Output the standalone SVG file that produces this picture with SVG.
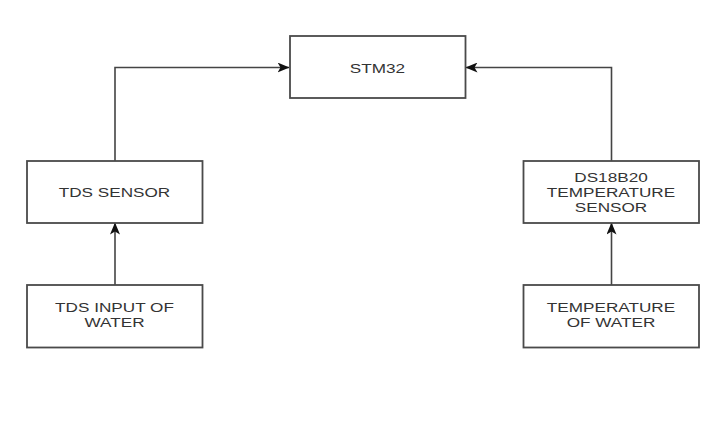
<svg xmlns="http://www.w3.org/2000/svg" width="720" height="425" viewBox="0 0 720 425">
<style>
.box{fill:#ffffff;stroke:#4a4a4a;stroke-width:1.8}
.lbl{font-family:"Liberation Sans",Arial,sans-serif;font-size:13px;fill:#333333;text-anchor:middle}
.edge{fill:none;stroke:#444444;stroke-width:1.6}
</style>
<defs>
<marker id="arr" viewBox="0 0 12 10" refX="11.5" refY="5" markerUnits="userSpaceOnUse" markerWidth="12" markerHeight="10" orient="auto">
<path d="M0,0 L12,5 L0,10 L3,5 Z" fill="#111111"/>
</marker>
</defs>
<rect width="720" height="425" fill="#ffffff"/>
<g id="connectors">
<path class="edge" d="M115,161 V67.5 H289" marker-end="url(#arr)"/>
<path class="edge" d="M611.5,161 V67.5 H466" marker-end="url(#arr)"/>
<path class="edge" d="M115,285 V223" marker-end="url(#arr)"/>
<path class="edge" d="M611.5,285 V223" marker-end="url(#arr)"/>
</g>
<g id="stm32">
<rect class="box" x="290" y="36" width="175.5" height="62"/>
<text class="lbl" transform="translate(377.5,72.5) scale(1.32,1)">STM32</text>
</g>
<g id="tds-sensor">
<rect class="box" x="27" y="161" width="175.5" height="62"/>
<text class="lbl" transform="translate(114.5,196.5) scale(1.32,1)">TDS SENSOR</text>
</g>
<g id="ds18b20">
<rect class="box" x="523.5" y="161" width="175.5" height="62"/>
<text class="lbl" transform="translate(611,181.5) scale(1.32,1)">DS18B20</text>
<text class="lbl" transform="translate(611,196.5) scale(1.32,1)">TEMPERATURE</text>
<text class="lbl" transform="translate(611,211.5) scale(1.32,1)">SENSOR</text>
</g>
<g id="tds-input">
<rect class="box" x="27" y="285" width="175.5" height="62.5"/>
<text class="lbl" transform="translate(114.5,311.5) scale(1.32,1)">TDS INPUT OF</text>
<text class="lbl" transform="translate(114.5,326.5) scale(1.32,1)">WATER</text>
</g>
<g id="temp-water">
<rect class="box" x="523.5" y="285" width="175.5" height="62.5"/>
<text class="lbl" transform="translate(611,311.5) scale(1.32,1)">TEMPERATURE</text>
<text class="lbl" transform="translate(611,326.5) scale(1.32,1)">OF WATER</text>
</g>
</svg>
